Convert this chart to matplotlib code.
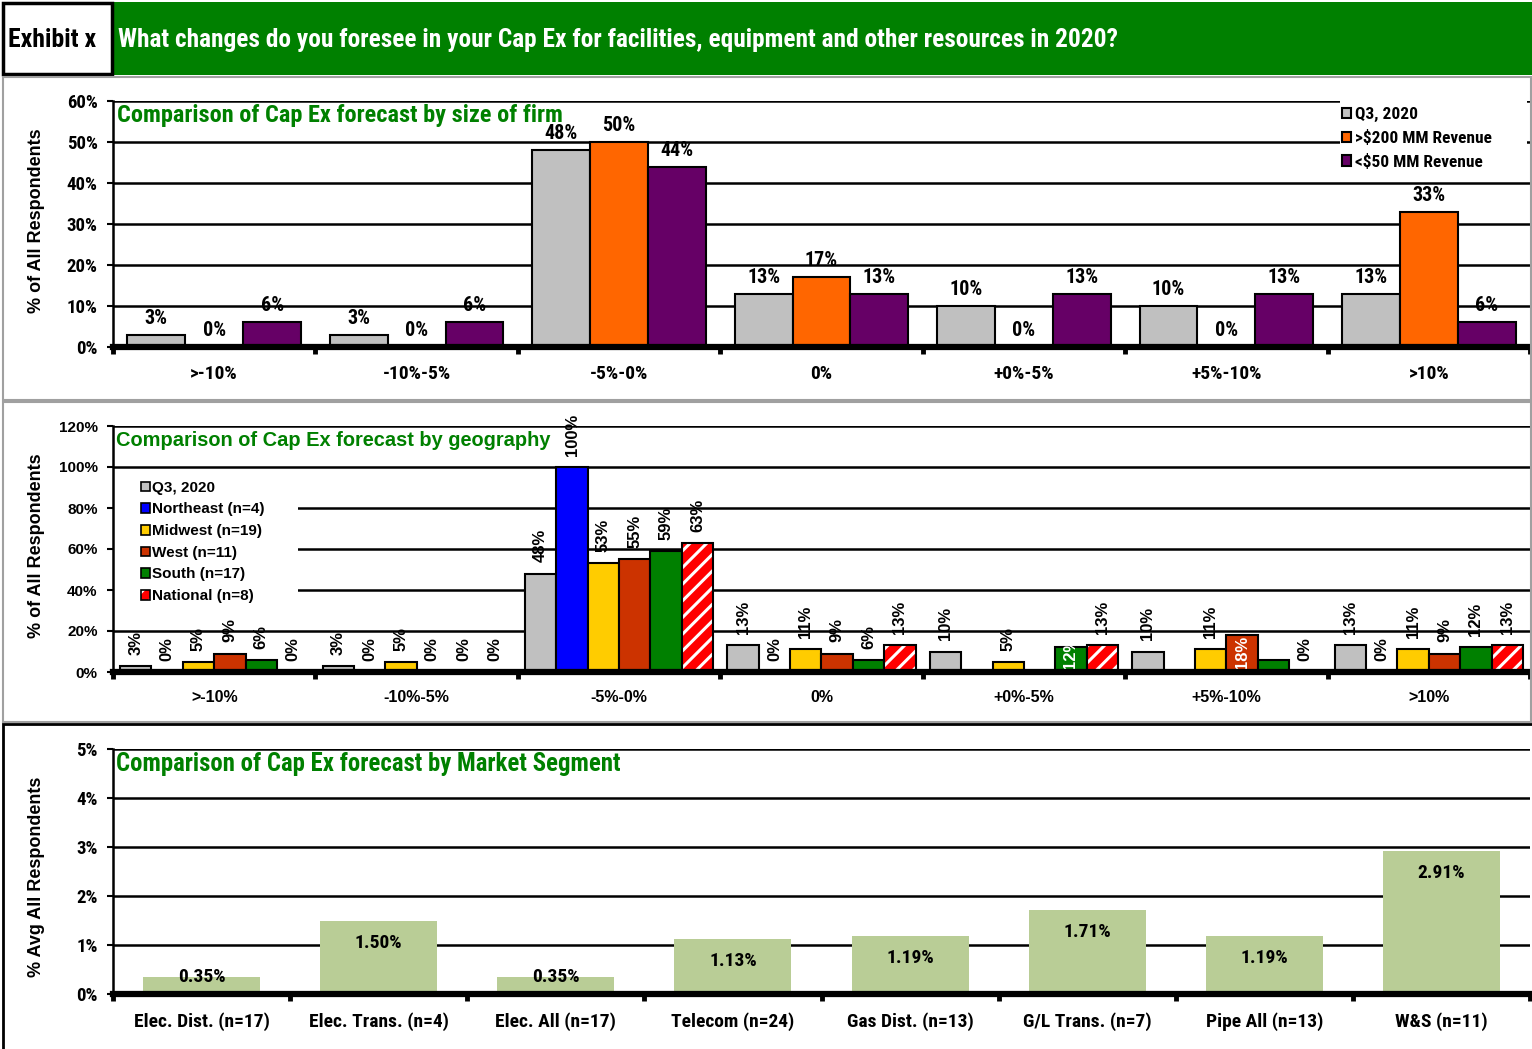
import matplotlib
matplotlib.use("Agg")
import matplotlib.pyplot as plt
from matplotlib import font_manager as fm
from matplotlib.patches import Rectangle, Patch
from matplotlib.ticker import FixedLocator, FuncFormatter

# ---------------- data ----------------
header_tag = "Exhibit x"
header_title = ("What changes do you foresee in your Cap Ex for facilities, "
                "equipment and other resources in 2020?")

size_title = "Comparison of Cap Ex forecast by size of firm"
size_categories = [">-10%", "-10%-5%", "-5%-0%", "0%", "+0%-5%", "+5%-10%", ">10%"]
size_series = ["Q3, 2020", ">$200 MM Revenue", "<$50 MM Revenue"]
size_q3_2020 = [3, 3, 48, 13, 10, 10, 13]
size_over_200mm = [0, 0, 50, 17, 0, 0, 33]
size_under_50mm = [6, 6, 44, 13, 13, 13, 6]
size_yticks = [0, 10, 20, 30, 40, 50, 60]

geo_title = "Comparison of Cap Ex forecast by geography"
geo_categories = [">-10%", "-10%-5%", "-5%-0%", "0%", "+0%-5%", "+5%-10%", ">10%"]
geo_series = ["Q3, 2020", "Northeast (n=4)", "Midwest (n=19)", "West (n=11)",
              "South (n=17)", "National (n=8)"]
geo_q3_2020 = [3, 3, 48, 13, 10, 10, 13]
geo_northeast = [0, 0, 100, 0, 0, 0, 0]
geo_midwest = [5, 5, 53, 11, 5, 11, 11]
geo_west = [9, 0, 55, 9, 0, 18, 9]
geo_south = [6, 0, 59, 6, 12, 6, 12]
geo_national = [0, 0, 63, 13, 13, 0, 13]
geo_yticks = [0, 20, 40, 60, 80, 100, 120]
# (series index, category index): labels absent / drawn in white in the original
geo_hidden_labels = [(1, 4), (3, 4), (1, 5), (4, 5)]
geo_white_labels = [(4, 4), (3, 5)]

seg_title = "Comparison of Cap Ex forecast by Market Segment"
seg_categories = ["Elec. Dist. (n=17)", "Elec. Trans. (n=4)", "Elec. All (n=17)",
                  "Telecom (n=24)", "Gas Dist. (n=13)", "G/L Trans. (n=7)",
                  "Pipe All (n=13)", "W&S (n=11)"]
seg_values = [0.35, 1.50, 0.35, 1.13, 1.19, 1.71, 1.19, 2.91]
seg_yticks = [0, 1, 2, 3, 4, 5]

# ---------------- styles ----------------
W, H = 1532, 1049
names = {f.name for f in fm.fontManager.ttflist}
NARROW = None
for cand in ["Liberation Sans Narrow", "Arial Narrow", "Nimbus Sans Narrow",
             "Roboto Condensed", "Open Sans Condensed"]:
    if cand in names:
        NARROW = cand
        break
REG = "Liberation Sans" if "Liberation Sans" in names else "DejaVu Sans"
NS = 1.0
if NARROW is None:
    NARROW = REG
    NS = 0.84
NF = [NARROW, "DejaVu Sans"]
RF = [REG, "DejaVu Sans"]

GREEN_T = "#008000"
plt.rcParams["hatch.linewidth"] = 2.2

size_colors = ["#C0C0C0", "#FF6600", "#660066"]
geo_colors = ["#C0C0C0", "#0000FF", "#FFCC00", "#CC3300", "#008000", "#FF0000"]
seg_color = "#B9CD96"

fig = plt.figure(figsize=(W / 100, H / 100), dpi=100)


def px_rect(x0, y0, x1, y1, **kw):
    r = Rectangle((x0 / W, 1 - y1 / H), (x1 - x0) / W, (y1 - y0) / H,
                  transform=fig.transFigure, **kw)
    fig.add_artist(r)
    return r


def px_axes(x0, y0, x1, y1):
    return fig.add_axes([x0 / W, 1 - y1 / H, (x1 - x0) / W, (y1 - y0) / H])


# ---------------- header ----------------
px_rect(113, 2, 1532, 75, facecolor="#008000", edgecolor="none")
px_rect(3, 3, 112, 74, facecolor="white", edgecolor="black", linewidth=2.5)
fig.text(52 / W, 1 - 40 / H, header_tag, ha="center", va="center",
         fontsize=18.5 * NS, fontweight="bold", family=NF, color="black")
fig.text(118 / W, 1 - 40 / H, header_title, ha="left", va="center",
         fontsize=18.3 * NS, fontweight="bold", family=NF, color="white")

# panel borders
px_rect(3, 77, 1531, 400, facecolor="none", edgecolor="#A0A0A0", linewidth=1.5)
px_rect(3, 402, 1531, 722, facecolor="none", edgecolor="#A0A0A0", linewidth=1.5)
px_rect(3, 724, 1533, 1050, facecolor="none", edgecolor="black", linewidth=2)


def style_axes(ax, ncat, yticks, ylabel_font, tick_fs, xlab_font, xlab_fs, xlabels):
    ax.set_xlim(-0.5, ncat - 0.5)
    ax.set_ylim(yticks[0], yticks[-1])
    for s in ["top", "right"]:
        ax.spines[s].set_visible(False)
    ax.spines["left"].set_linewidth(1.8)
    ax.spines["bottom"].set_linewidth(4.5)
    ax.spines["bottom"].set_zorder(6)
    ax.yaxis.set_major_locator(FixedLocator(yticks))
    ax.yaxis.set_major_formatter(FuncFormatter(lambda v, p: f"{v:g}%"))
    ax.yaxis.grid(True, color="black", linewidth=1.8)
    ax.set_axisbelow(True)
    ax.tick_params(axis="y", length=4, width=1.5, pad=7)
    for t in ax.get_yticklabels():
        t.set_fontfamily(ylabel_font)
        t.set_fontweight("bold")
        t.set_fontsize(tick_fs)
    ax.set_xticks(range(ncat))
    ax.set_xticklabels(xlabels, fontsize=xlab_fs, fontweight="bold", family=xlab_font)
    ax.set_xticks([i - 0.5 for i in range(ncat + 1)], minor=True)
    ax.tick_params(axis="x", which="major", length=0, pad=13)
    ax.tick_params(axis="x", which="minor", length=5, width=3.5, direction="out")


# ---------------- panel 1: size of firm ----------------
ax1 = px_axes(113, 101, 1530, 347)
style_axes(ax1, len(size_categories), size_yticks, NF, 13.5 * NS, NF, 14 * NS,
           size_categories)
bw = 0.286
series1 = [size_q3_2020, size_over_200mm, size_under_50mm]
for i, (vals, col) in enumerate(zip(series1, size_colors)):
    xs = [c + (i - 1) * bw for c in range(len(size_categories))]
    ax1.bar(xs, vals, bw, color=col, edgecolor="black", linewidth=1.5, zorder=2,
            label=size_series[i])
    for x, v in zip(xs, vals):
        ax1.annotate(f"{v}%", (x, v), xytext=(0, 5), textcoords="offset points",
                     ha="center", va="bottom", fontsize=14.5 * NS,
                     fontweight="bold", family=NF)
ax1.add_patch(Rectangle((0.866, 0.69), 0.132, 0.33, transform=ax1.transAxes,
                        facecolor="white", edgecolor="none", zorder=1, clip_on=False))
leg1 = ax1.legend(loc="upper left", bbox_to_anchor=(0.867, 0.975), frameon=False,
                  borderaxespad=0, borderpad=0, handlelength=0.55, handleheight=0.55,
                  handletextpad=0.2, labelspacing=0.45,
                  prop={"family": NF, "weight": "bold", "size": 12.5 * NS})
ax1.text(0.003, 0.94, size_title, transform=ax1.transAxes, ha="left", va="center",
         fontsize=17.5 * NS, fontweight="bold", family=NF, color=GREEN_T, zorder=7)

# ---------------- panel 2: geography ----------------
ax2 = px_axes(113, 426, 1530, 672)
style_axes(ax2, len(geo_categories), geo_yticks, RF, 11, RF, 11.5, geo_categories)
bw2 = 0.155
series2 = [geo_q3_2020, geo_northeast, geo_midwest, geo_west, geo_south, geo_national]
handles2 = []
for i, (vals, col) in enumerate(zip(series2, geo_colors)):
    xs = [c + (i - 2.5) * bw2 for c in range(len(geo_categories))]
    if geo_series[i].startswith("National"):
        ax2.bar(xs, vals, bw2, color=col, edgecolor="white", hatch="//",
                linewidth=0, zorder=2)
        ax2.bar(xs, vals, bw2, fill=False, edgecolor="black", linewidth=1.5, zorder=3)
        handles2.append((Patch(facecolor=col, edgecolor="white", hatch="//", linewidth=0),
                         Patch(fill=False, edgecolor="black", linewidth=1.2)))
    else:
        ax2.bar(xs, vals, bw2, color=col, edgecolor="black", linewidth=1.5, zorder=2)
        handles2.append(Patch(facecolor=col, edgecolor="black", linewidth=1.2))
    for j, (x, v) in enumerate(zip(xs, vals)):
        if (i, j) in geo_hidden_labels:
            continue
        if (i, j) in geo_white_labels:
            ax2.annotate(f"{v}%", (x, 0), xytext=(0, 2), textcoords="offset points",
                         ha="center", va="bottom", rotation=90, fontsize=12,
                         fontweight="bold", family=RF, color="white", zorder=4)
        else:
            ax2.annotate(f"{v}%", (x, v), xytext=(0, 8), textcoords="offset points",
                         ha="center", va="bottom", rotation=90, fontsize=12,
                         fontweight="bold", family=RF, color="black", zorder=4)
ax2.add_patch(Rectangle((0.0, 0.21), 0.1306, 0.60, transform=ax2.transAxes,
                        facecolor="white", edgecolor="none", zorder=1))
ax2.legend(handles2, geo_series, loc="upper left", bbox_to_anchor=(0.0195, 0.777),
           frameon=False, borderaxespad=0, borderpad=0, handlelength=0.6,
           handleheight=0.6, handletextpad=0.15, labelspacing=0.5,
           prop={"family": RF, "weight": "bold", "size": 11})
ax2.text(0.002, 0.94, geo_title, transform=ax2.transAxes, ha="left", va="center",
         fontsize=14.4, fontweight="bold", family=RF, color=GREEN_T, zorder=7)

# ---------------- panel 3: market segment ----------------
ax3 = px_axes(113, 749, 1530, 994)
style_axes(ax3, len(seg_categories), seg_yticks, NF, 13.5 * NS, NF, 14 * NS,
           seg_categories)
ax3.bar(range(len(seg_categories)), seg_values, 0.66, color=seg_color,
        edgecolor="none", zorder=2)
for x, v in enumerate(seg_values):
    y = v - 0.45 if v - 0.45 > 0.3 else v
    ax3.text(x, y, f"{v:.2f}%", ha="center", va="center", fontsize=14 * NS,
             fontweight="bold", family=NF, zorder=4)
ax3.text(0.002, 0.94, seg_title, transform=ax3.transAxes, ha="left", va="center",
         fontsize=17.8 * NS, fontweight="bold", family=NF, color=GREEN_T, zorder=7)

# y-axis titles
fig.text(37 / W, 1 - 221 / H, "% of All Respondents", rotation=90, ha="center",
         va="center", fontsize=13, fontweight="bold", family=RF)
fig.text(37 / W, 1 - 546 / H, "% of All Respondents", rotation=90, ha="center",
         va="center", fontsize=13, fontweight="bold", family=RF)
fig.text(37 / W, 1 - 877 / H, "% Avg All Respondents", rotation=90, ha="center",
         va="center", fontsize=13, fontweight="bold", family=RF)

fig.savefig("out.png", dpi=100)
